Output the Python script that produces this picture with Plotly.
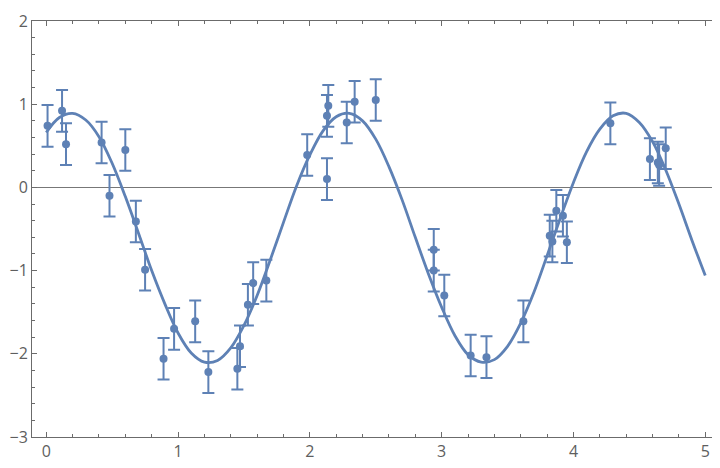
import plotly.graph_objects as go

# measured data points (x, y), all with the same error half-width
data_x = [0.01, 0.12, 0.15, 0.42, 0.48, 0.60, 0.68, 0.75, 0.89, 0.97,
          1.13, 1.23, 1.45, 1.47, 1.53, 1.57, 1.67, 1.98, 2.13, 2.14,
          2.13, 2.28, 2.34, 2.50, 2.94, 2.94, 3.02, 3.22, 3.34, 3.62,
          3.87, 3.92, 3.82, 3.84, 3.95, 4.28, 4.58, 4.64, 4.65, 4.70]
data_y = [0.74, 0.92, 0.52, 0.54, -0.10, 0.45, -0.41, -0.99, -2.06, -1.70,
          -1.61, -2.22, -2.18, -1.91, -1.41, -1.15, -1.12, 0.39, 0.86, 0.98,
          0.10, 0.78, 1.03, 1.05, -0.75, -1.00, -1.30, -2.02, -2.04, -1.61,
          -0.28, -0.34, -0.58, -0.65, -0.66, 0.77, 0.34, 0.30, 0.27, 0.47]
data_err = [0.25] * len(data_x)

# fitted curve, every 0.1
fit_x = [round(i * 0.1, 1) for i in range(51)]
fit_y = [0.66, 0.84, 0.89, 0.81, 0.61, 0.29, -0.11, -0.55, -1.00, -1.40,
         -1.75, -1.99, -2.10, -2.08, -1.93, -1.66, -1.30, -0.87, -0.42, 0.02,
         0.39, 0.68, 0.85, 0.89, 0.80, 0.58, 0.25, -0.15, -0.60, -1.04,
         -1.44, -1.78, -2.01, -2.10, -2.07, -1.91, -1.63, -1.26, -0.82, -0.37,
         0.06, 0.43, 0.70, 0.86, 0.89, 0.78, 0.55, 0.21, -0.20, -0.64,
         -1.06]

blue = 'rgb(94,129,181)'
axis_grey = '#6b6b6b'

fig = go.Figure()

fig.add_trace(go.Scatter(
    x=data_x, y=data_y,
    mode='markers',
    marker=dict(color=blue, size=8),
    error_y=dict(type='data', array=data_err, color=blue, thickness=2, width=6),
    showlegend=False
))

fig.add_trace(go.Scatter(
    x=fit_x, y=fit_y,
    mode='lines',
    line=dict(color=blue, width=2.8, shape='spline'),
    showlegend=False
))

axis_common = dict(
    showline=True, linecolor=axis_grey, linewidth=1, mirror='allticks',
    ticks='inside', ticklen=5, tickwidth=1, tickcolor=axis_grey,
    showgrid=False, ticklabeloverflow='allow',
    tickfont=dict(family='Open Sans', size=16, color='#5e5e5e'),
    minor=dict(ticks='inside', ticklen=3, tickcolor=axis_grey, dtick=0.2, showgrid=False),
)

fig.update_xaxes(range=[-0.108, 5.089], dtick=1, tick0=0, zeroline=False, **axis_common)
fig.update_yaxes(range=[-3, 2], dtick=1, tick0=0, zeroline=True,
                 zerolinecolor='#777777', zerolinewidth=1, **axis_common)

# the page body adds an 8px margin, so the figure is sized to fit inside it
fig.update_layout(
    width=712, height=460,
    margin=dict(l=24, r=2, t=6, b=31),
    plot_bgcolor='white', paper_bgcolor='white',
)

fig.write_html("out.html")
